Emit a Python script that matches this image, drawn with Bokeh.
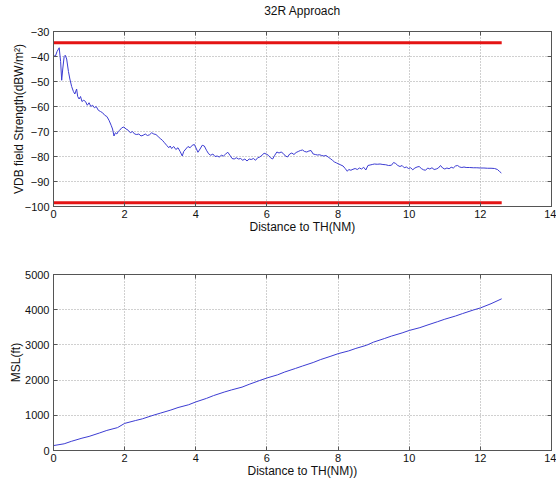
from bokeh.plotting import figure
from bokeh.layouts import column
from bokeh.models import FixedTicker, Range1d, LinearAxis, CustomLabelingPolicy
from bokeh.embed import file_html
from bokeh.resources import INLINE

# --- VDB field strength along the 32R approach ---
dist_fs = [0.00, 0.05, 0.10, 0.16, 0.20, 0.23, 0.26, 0.30, 0.33, 0.37, 0.42, 0.46, 0.51, 0.56, 0.60,
           0.65, 0.68, 0.72, 0.76, 0.80, 0.85, 0.90, 0.95, 1.00, 1.05, 1.10, 1.15, 1.20, 1.26, 1.32,
           1.38, 1.44, 1.50, 1.56, 1.62, 1.66, 1.70, 1.74, 1.78, 1.82, 1.86, 1.92, 1.98, 2.04, 2.10,
           2.16, 2.22, 2.28, 2.34, 2.40, 2.46, 2.52, 2.58, 2.64, 2.70, 2.76, 2.82, 2.88, 2.94, 3.00,
           3.06, 3.12, 3.18, 3.24, 3.28, 3.32, 3.38, 3.44, 3.50, 3.56, 3.62, 3.66, 3.72, 3.78, 3.84,
           3.90, 3.96, 4.02, 4.06, 4.12, 4.18, 4.24, 4.30, 4.36, 4.42, 4.48, 4.54, 4.60, 4.66, 4.72,
           4.78, 4.84, 4.90, 4.96, 5.02, 5.08, 5.14, 5.20, 5.26, 5.32, 5.38, 5.44, 5.50, 5.56, 5.62,
           5.68, 5.74, 5.80, 5.86, 5.92, 5.98, 6.04, 6.10, 6.16, 6.22, 6.28, 6.34, 6.40, 6.46, 6.52,
           6.58, 6.64, 6.70, 6.76, 6.82, 6.88, 6.94, 7.00, 7.06, 7.12, 7.18, 7.24, 7.30, 7.36, 7.42,
           7.48, 7.54, 7.60, 7.66, 7.72, 7.78, 7.84, 7.90, 7.96, 8.02, 8.08, 8.14, 8.20, 8.26, 8.30,
           8.36, 8.42, 8.48, 8.54, 8.60, 8.66, 8.72, 8.78, 8.84, 8.90, 8.96, 9.02, 9.10, 9.18, 9.26,
           9.34, 9.42, 9.50, 9.56, 9.62, 9.68, 9.74, 9.80, 9.86, 9.92, 9.98, 10.04, 10.10, 10.16, 10.22,
           10.28, 10.34, 10.40, 10.46, 10.52, 10.58, 10.64, 10.70, 10.76, 10.82, 10.88, 10.94, 11.00, 11.06, 11.12,
           11.18, 11.24, 11.30, 11.36, 11.42, 11.48, 11.54, 11.60, 11.70, 11.80, 11.90, 12.00, 12.10, 12.20, 12.30,
           12.40, 12.48, 12.54, 12.59]
field_dbw = [-39.5, -40.0, -38.0, -36.5, -42.0, -49.5, -45.0, -40.0, -39.5, -41.0, -46.0, -49.0, -52.0, -54.0, -55.0,
             -53.0, -56.0, -57.0, -56.0, -58.0, -57.5, -58.0, -59.5, -58.5, -60.0, -59.5, -60.5, -60.0, -61.5, -62.0,
             -62.5, -63.5, -64.0, -65.5, -67.5, -69.0, -71.8, -70.5, -71.0, -70.0, -69.5, -68.5, -68.2, -69.0, -69.5,
             -70.5, -70.0, -71.0, -71.2, -71.0, -71.8, -71.5, -71.0, -71.6, -71.3, -70.5, -71.0, -71.2, -72.0, -72.8,
             -73.5, -74.5, -75.5, -76.5, -75.8, -76.8, -76.0, -77.2, -76.5, -78.0, -79.8, -78.0, -77.0, -76.0, -76.5,
             -75.5, -75.2, -77.0, -78.3, -77.0, -75.5, -75.8, -77.5, -78.9, -79.5, -79.0, -80.0, -79.8, -80.2, -79.5,
             -79.8, -79.0, -78.3, -79.5, -80.8, -81.0, -80.5, -81.0, -80.8, -81.5, -81.0, -81.8, -81.0, -81.2, -80.8,
             -81.5, -80.5, -80.2, -79.5, -78.7, -79.0, -79.5, -80.5, -81.0, -79.5, -78.2, -78.6, -78.2, -78.8, -79.8,
             -80.2, -79.0, -78.6, -79.2, -78.4, -78.0, -77.6, -77.4, -78.0, -78.2, -77.8, -77.6, -79.0, -79.2, -79.4,
             -79.3, -79.6, -79.8, -79.6, -80.2, -80.8, -81.5, -82.2, -82.6, -83.0, -83.4, -83.8, -84.8, -85.9, -85.2,
             -85.5, -85.1, -84.8, -85.2, -84.6, -85.0, -84.3, -85.4, -83.6, -83.4, -83.2, -83.0, -83.1, -83.0, -83.2,
             -83.3, -83.6, -83.5, -82.4, -82.8, -83.6, -84.0, -83.6, -84.5, -84.2, -84.8, -84.5, -85.3, -84.6, -84.2,
             -84.0, -84.8, -85.3, -85.5, -84.6, -85.0, -84.5, -85.2, -85.0, -84.6, -83.6, -84.6, -85.0, -84.6, -84.9,
             -84.3, -84.6, -83.8, -83.6, -84.2, -84.4, -84.2, -84.4, -84.4, -84.5, -84.5, -84.6, -84.6, -84.7, -84.7,
             -84.8, -85.2, -86.0, -86.6]

# Upper and lower limit lines
limit_x = [0.0, 12.6]
upper_limit = -34.5
lower_limit = -98.5

# --- Altitude along the approach ---
dist_alt = [0.0, 0.3, 0.5, 0.8, 1.0, 1.3, 1.5, 1.8, 2.0, 2.3, 2.5, 2.8, 3.0, 3.3, 3.5, 3.8, 4.0, 4.3, 4.5,
            4.8, 5.0, 5.3, 5.5, 5.8, 6.0, 6.3, 6.5, 6.8, 7.0, 7.3, 7.5, 7.8, 8.0, 8.3, 8.5, 8.8, 9.0,
            9.3, 9.5, 9.8, 10.0, 10.3, 10.5, 10.8, 11.0, 11.3, 11.5, 11.8, 12.0, 12.3, 12.6]
msl_ft = [140, 190, 260, 350, 400, 500, 570, 650, 770, 850, 900, 1000, 1060, 1150, 1220, 1300, 1380, 1480, 1560,
          1660, 1720, 1800, 1880, 1990, 2060, 2150, 2230, 2330, 2400, 2500, 2580, 2680, 2750, 2830, 2900, 2990, 3080,
          3180, 3250, 3340, 3410, 3490, 3560, 3660, 3730, 3820, 3890, 3990, 4050, 4170, 4310]

x_ticks = [0, 2, 4, 6, 8, 10, 12, 14]
fs_ticks = [-100, -90, -80, -70, -60, -50, -40, -30]
alt_ticks = [0, 1000, 2000, 3000, 4000, 5000]

FONT = "Liberation Sans"
BLUE = "#3c3cd2"
RED = "#e41414"
AXIS = "#555555"

# drop every tick label (used for the tick-only axes on the top and right edges)
NO_LABELS = CustomLabelingPolicy(code="""
    for (const i of Array.from(indices)) indices.unset(i)
    return indices
""")


def style_axis(ax):
    ax.axis_line_color = AXIS
    ax.major_tick_in = 4
    ax.major_tick_out = 0
    ax.minor_tick_line_color = None
    ax.major_tick_line_color = AXIS
    ax.major_label_text_font = FONT
    ax.major_label_text_font_size = "11px"
    ax.major_label_text_color = "#111111"
    ax.axis_label_text_font = FONT
    ax.axis_label_text_font_size = "12px"
    ax.axis_label_text_font_style = "normal"
    ax.axis_label_text_color = "#111111"


def tick_only_axis(ticks):
    ax = LinearAxis(ticker=FixedTicker(ticks=ticks), major_label_policy=NO_LABELS)
    style_axis(ax)
    ax.major_label_text_font_size = "1px"
    ax.major_label_standoff = 0
    return ax


def style(p, xt, yt, ylabel_standoff, title=None):
    p.background_fill_color = "white"
    p.border_fill_color = "white"
    p.outline_line_color = AXIS
    p.outline_line_width = 1
    p.xaxis.ticker = FixedTicker(ticks=xt)
    p.yaxis.ticker = FixedTicker(ticks=yt)
    for ax in (p.xaxis, p.yaxis):
        style_axis(ax)
    p.xaxis.major_label_standoff = 3
    p.yaxis.major_label_standoff = 4
    p.xaxis.axis_label_standoff = -1
    p.yaxis.axis_label_standoff = ylabel_standoff
    right = tick_only_axis(yt)
    above = tick_only_axis(xt)
    if title:
        above.axis_label = title
        above.axis_label_standoff = 10
    p.add_layout(right, "right")
    p.add_layout(above, "above")
    for g in (p.xgrid, p.ygrid):
        g.grid_line_color = "#a0a0a0"
        g.grid_line_dash = "1 2"
        g.grid_line_width = 1


top = figure(width=556, height=240, output_backend="svg", toolbar_location=None,
             x_range=Range1d(0, 14), y_range=Range1d(-100, -30),
             min_border_left=53, min_border_right=4, min_border_top=31, min_border_bottom=34)
top.xaxis.axis_label = "Distance to TH(NM)"
top.yaxis.axis_label = "VDB field Strength(dBW/m\u00b2)"
style(top, x_ticks, fs_ticks, -4, title="32R Approach")
top.line(limit_x, [upper_limit, upper_limit], line_color=RED, line_width=3)
top.line(limit_x, [lower_limit, lower_limit], line_color=RED, line_width=3)
top.line(dist_fs, field_dbw, line_color=BLUE, line_width=1)

bottom = figure(width=556, height=243, output_backend="svg", toolbar_location=None,
                x_range=Range1d(0, 14), y_range=Range1d(0, 5000),
                min_border_left=53, min_border_right=4, min_border_top=34, min_border_bottom=33)
bottom.xaxis.axis_label = "Distance to TH(NM))"
bottom.yaxis.axis_label = "MSL(ft)"
style(bottom, x_ticks, alt_ticks, -1)
bottom.line(dist_alt, msl_ft, line_color=BLUE, line_width=1)

layout = column(top, bottom, spacing=0)
open("out.html", "w").write(file_html(layout, INLINE))
